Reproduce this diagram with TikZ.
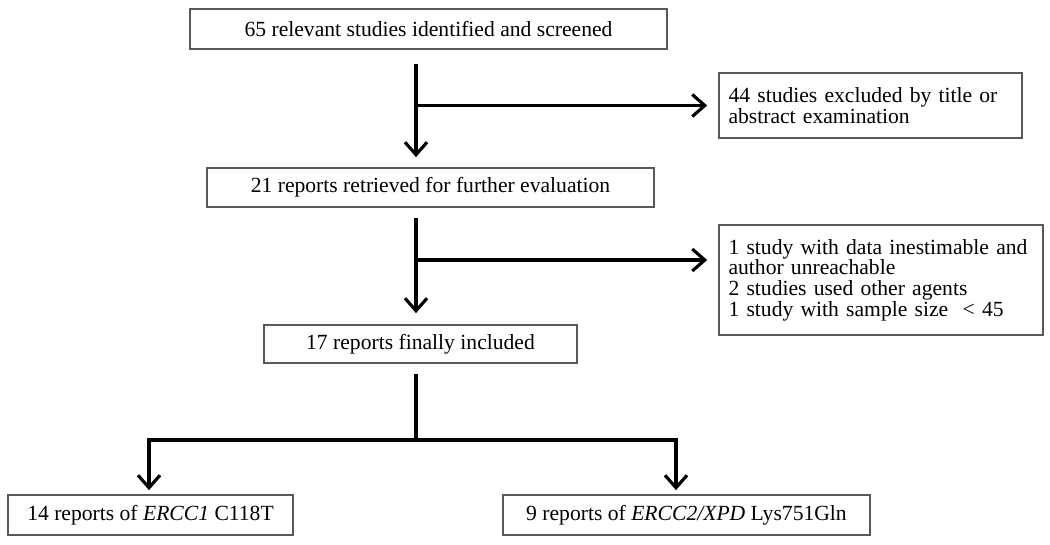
\documentclass[tikz,border=0pt]{standalone}
\usepackage{fontspec}
\setmainfont{Liberation Serif}
\usetikzlibrary{arrows.meta,positioning}

\begin{document}
\begin{tikzpicture}[
  x=0.02cm,y=-0.02cm,
  every node/.style={font=\fontsize{12.3}{11.8}\selectfont},
  box/.style={draw=black!65,line width=1pt,fill=white,align=center,
              minimum height=0.8cm,inner sep=0pt},
  notebox/.style={draw=black!65,line width=1pt,fill=white,align=left,
              inner xsep=0.19cm,inner ysep=0pt},
  link/.style={line width=1.8pt},
  arrow/.style={link,-{Straight Barb[length=2.5mm,width=4.4mm,line width=1.8pt]}}
]
  \useasboundingbox (0,0) rectangle (1050,544);
  \coordinate (spine) at (416,0);

  \node[box,minimum width=9.54cm] (found) at (428.5,29)
    {65 relevant studies identified and screened};
  \node[box,minimum width=8.94cm,minimum height=0.78cm] (retr) at (430.5,187.5)
    {21 reports retrieved for further evaluation};
  \node[box,minimum width=6.26cm,minimum height=0.76cm] (incl) at (420.5,344)
    {17 reports finally included};

  \node[notebox,text width=5.68cm,minimum height=1.3cm] (excl) at (870.5,105.5)
    {44 studies excluded by title or\\abstract examination};
  \node[notebox,text width=6.1cm,minimum height=2.2cm] (drop) at (881,280)
    {1 study with data inestimable and\\author unreachable\\2 studies used other agents\\1 study with sample size\ \ < 45};

  \node[box,minimum width=5.7cm] (rep1) at (150.5,515)
    {14 reports of \textit{ERCC1} C118T};
  \node[box,minimum width=7.34cm] (rep2) at (686.5,515)
    {9 reports of \textit{ERCC2/XPD} Lys751Gln};

  \coordinate (cut) at (416,260);
  \coordinate (split) at (416,440);

  \draw[arrow,shorten <=0.28cm,shorten >=0.2cm] (found.south -| spine) -- (retr.north -| spine);
  \draw[arrow,shorten >=0.22cm] (spine |- excl.west) -- (excl.west);
  \draw[arrow,shorten <=0.2cm,shorten >=0.22cm] (retr.south -| spine) -- (incl.north -| spine);
  \draw[arrow,shorten >=0.22cm] (cut) -- (drop.west |- cut);
  \draw[link,shorten <=0.2cm] (incl.south -| split) -- (split);
  \draw[arrow,shorten >=0.08cm] (split) -| ([xshift=-0.03cm]rep1.north);
  \draw[arrow,shorten >=0.08cm] (split) -| ([xshift=-0.21cm]rep2.north);
\end{tikzpicture}
\end{document}
